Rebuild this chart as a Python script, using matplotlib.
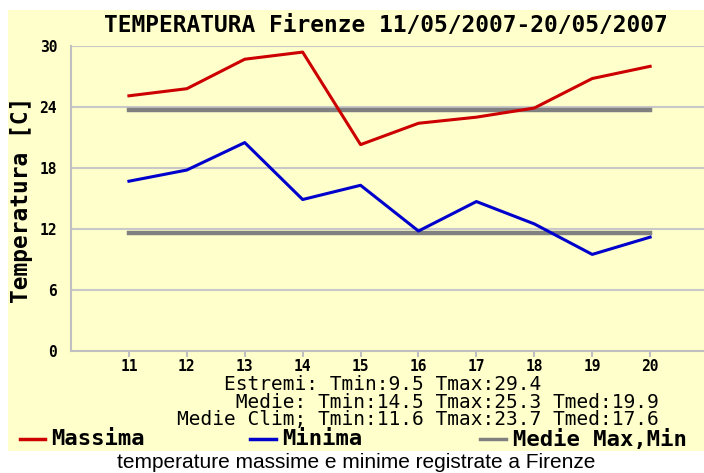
import numpy as np
import matplotlib.pyplot as plt
from matplotlib.patches import Rectangle
from matplotlib.lines import Line2D

# Temperature giornaliere Firenze, 11-20 maggio 2007
giorni = [11, 12, 13, 14, 15, 16, 17, 18, 19, 20]
t_max = [25.1, 25.8, 28.7, 29.4, 20.3, 22.4, 23.0, 23.9, 26.8, 28.0]
t_min = [16.7, 17.8, 20.5, 14.9, 16.3, 11.8, 14.7, 12.5, 9.5, 11.2]
clim_max = 23.7
clim_min = 11.6
y_ticks = [0, 6, 12, 18, 24, 30]

stat_lines = ["Estremi: Tmin:9.5 Tmax:29.4",
              "Medie: Tmin:14.5 Tmax:25.3 Tmed:19.9",
              "Medie Clim; Tmin:11.6 Tmax:23.7 Tmed:17.6"]

W, H = 704, 473
fig = plt.figure(figsize=(W / 100, H / 100), dpi=100)
fig.patch.set_facecolor('white')

giallo = '#ffffcc'
fig.patches.append(Rectangle((8 / W, 1 - 451 / H), (W - 8) / W, (451 - 10) / H,
                             transform=fig.transFigure, facecolor=giallo,
                             edgecolor='none', zorder=-5))

ax = fig.add_axes([71 / W, 1 - 351 / H, (W - 71) / W, (351 - 46) / H])
ax.set_facecolor(giallo)
ax.set_xlim(10, 20.93)
ax.set_ylim(0, 30)

for y in y_ticks[1:]:
    ax.axhline(y, color='#c8c8c8', lw=1.5, zorder=1)

for s in ['top', 'right']:
    ax.spines[s].set_visible(False)
for s in ['left', 'bottom']:
    ax.spines[s].set_color('#c0c0c0')
    ax.spines[s].set_linewidth(1.5)

mono = 'DejaVu Sans Mono'
ax.set_xticks(giorni)
ax.set_xticklabels([str(g) for g in giorni], fontfamily=mono, fontweight='bold', fontsize=10.5)
ax.set_yticks(y_ticks)
ax.set_yticklabels([str(v) for v in y_ticks], fontfamily=mono, fontweight='bold', fontsize=10.5)
ax.tick_params(axis='x', length=4, width=1.5, color='#c0c0c0', pad=2)
ax.tick_params(axis='y', length=0, pad=10)

ax.plot([giorni[0], giorni[-1]], [clim_max, clim_max], color='#808080', lw=3.2, zorder=2)
ax.plot([giorni[0], giorni[-1]], [clim_min, clim_min], color='#808080', lw=3.2, zorder=2)
ax.plot(giorni, t_max, color='#cc0000', lw=2.2, zorder=3)
ax.plot(giorni, t_min, color='#0000cc', lw=2.2, zorder=3)

fig.text(386 / W, 1 - 25 / H, 'TEMPERATURA Firenze 11/05/2007-20/05/2007',
         ha='center', va='center', fontfamily=mono, fontweight='bold', fontsize=16.5)
fig.text(22 / W, 1 - 200 / H, 'Temperatura [C]', rotation=90, ha='center', va='center',
         fontfamily=mono, fontweight='bold', fontsize=16.5)

# righe con le statistiche, rientri in caratteri (font monospazio)
rientri = [4, 5, 0]
blocco = '\n'.join(' ' * n + riga for n, riga in zip(rientri, stat_lines))
fig.text(177 / W, 1 - 402 / H, blocco, ha='left', va='center', multialignment='left',
         fontfamily=mono, fontsize=14, linespacing=0.92)

# legenda
leg = [('Massima', '#cc0000', 20, 45, 51),
       ('Minima', '#0000cc', 250, 276, 282),
       ('Medie Max,Min', '#808080', 480, 506, 513)]
for nome, col, x0, x1, xt in leg:
    fig.lines.append(Line2D([x0 / W, x1 / W], [1 - 439 / H] * 2, color=col, lw=2.5,
                            transform=fig.transFigure))
    fig.text(xt / W, 1 - 439 / H, nome, ha='left', va='center',
             fontfamily=mono, fontweight='bold', fontsize=16)

fig.text(356 / W, 1 - 462 / H, 'temperature massime e minime registrate a Firenze',
         ha='center', va='center', fontfamily='Liberation Sans', fontsize=15)

fig.savefig('out.png', dpi=100)
